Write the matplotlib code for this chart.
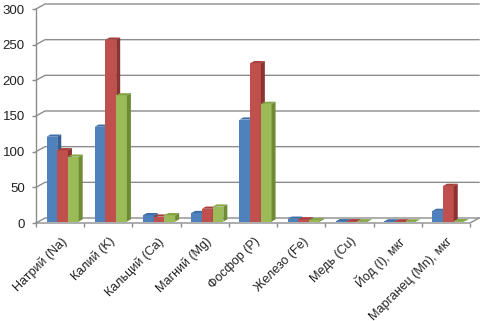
import numpy as np
import matplotlib.pyplot as plt
from matplotlib.transforms import ScaledTranslation

categories = ['Натрий (Na)', 'Калий (K)', 'Кальций (Ca)', 'Магний (Mg)',
              'Фосфор (P)', 'Железо (Fe)', 'Медь (Cu)', 'Йод (I), мкг',
              'Марганец (Mn), мкг']
series_blue = [119, 133, 9, 12, 143, 4, 0.5, 0.3, 15]
series_red = [100, 255, 7, 18, 222, 3, 0.5, 0.3, 50]
series_green = [91, 177, 9, 21, 165, 2, 0.3, 0.2, 0.5]
y_ticks = [0, 50, 100, 150, 200, 250, 300]

series = [series_blue, series_red, series_green]
front_colors = ['#4F81BD', '#C0504D', '#9BBB59']
side_colors = ['#355E93', '#8C3431', '#6F8B36']
top_colors = ['#3F6FA8', '#A7403D', '#85A547']
grid_color = '#8C8C8C'

W, H = 481, 321
fig = plt.figure(figsize=(W / 100, H / 100), dpi=100)
ax = fig.add_axes([36 / W, 1 - 223 / H, 434 / W, 214 / H])
ax.set_xlim(-0.5, 8.5)
ax.set_ylim(0, 300)

# pixel -> data conversions for the fake 3D look
px_x = 434 / 9
px_y = 214 / 300
wall_dx, wall_dy = 9 / px_x, 5 / px_y
bar_dx, bar_dy = 4 / px_x, 2.2 / px_y
fx, fy = 2.5 / px_x, 1.4 / px_y

# back wall gridlines + left wall stubs
for v in y_ticks:
    ax.plot([-0.5, -0.5 + wall_dx, 8.5 + wall_dx], [v, v + wall_dy, v + wall_dy],
            color=grid_color, lw=1.0, clip_on=False, zorder=1)
# floor front edge and right edge
ax.plot([-0.5, 8.5, 8.5 + wall_dx], [0, 0, wall_dy],
        color=grid_color, lw=1.0, clip_on=False, zorder=1)

x = np.arange(len(categories))
bw = 1 / 4.5
for i, vals in enumerate(series):
    xs = x + (i - 1) * bw + fx
    z = 3 + i * 0.5
    ax.bar(xs, vals, bw, bottom=fy, color=front_colors[i], zorder=z)
    for xc, v in zip(xs, vals):
        xl, xr = xc - bw / 2, xc + bw / 2
        top = fy + v
        ax.fill([xr, xr + bar_dx, xr + bar_dx, xr],
                [fy, fy + bar_dy, top + bar_dy, top],
                color=side_colors[i], lw=0, zorder=z + 0.1)
        ax.fill([xl, xl + bar_dx, xr + bar_dx, xr],
                [top, top + bar_dy, top + bar_dy, top],
                color=top_colors[i], lw=0, zorder=z + 0.1)

for s in ['top', 'right', 'bottom']:
    ax.spines[s].set_visible(False)
ax.spines['left'].set_color(grid_color)
ax.spines['left'].set_linewidth(1.0)

ax.set_yticks(y_ticks)
ax.tick_params(axis='y', length=3, width=1, color=grid_color, pad=5,
               labelsize=9.5, labelcolor='#222222')
for lab in ax.get_yticklabels():
    lab.set_family('Liberation Sans')

ax.set_xticks(x, categories)
ax.set_xticks(np.arange(-0.5, 9, 1), minor=True)
ax.tick_params(axis='x', which='major', length=0, pad=12,
               labelsize=9, labelcolor='#222222')
ax.tick_params(axis='x', which='minor', length=3, width=1, color=grid_color)
shift = ScaledTranslation(5 / 100, 0, fig.dpi_scale_trans)
for lab in ax.get_xticklabels():
    lab.set_family('Liberation Sans')
    lab.set_rotation(45)
    lab.set_ha('right')
    lab.set_va('center')
    lab.set_rotation_mode('anchor')
    lab.set_transform(lab.get_transform() + shift)

fig.savefig('out.png', dpi=100)
